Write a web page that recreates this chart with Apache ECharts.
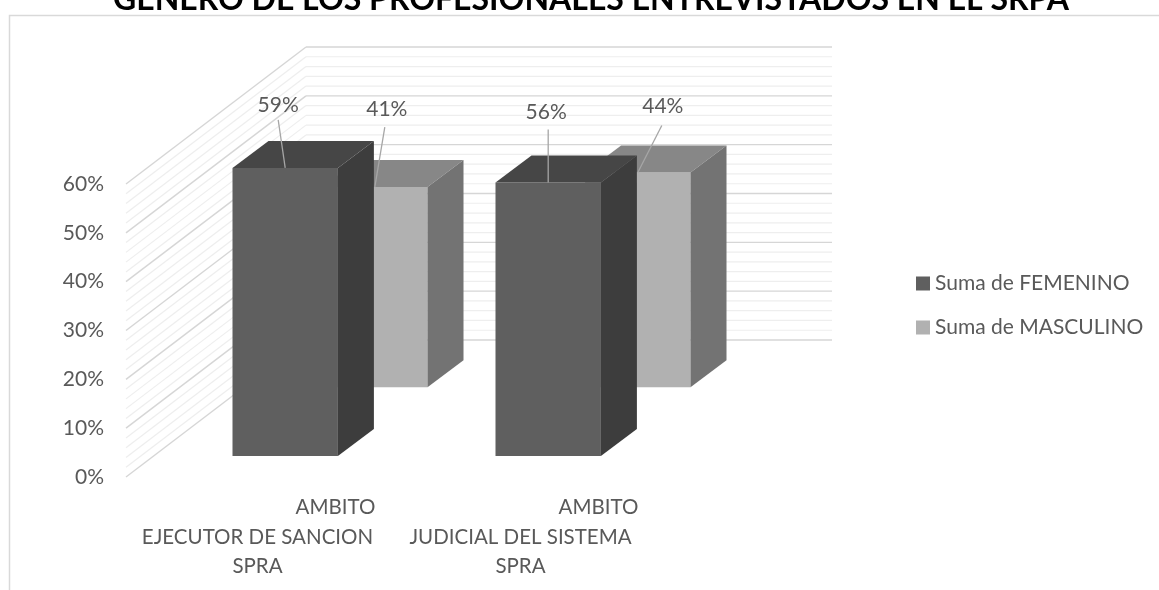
<!DOCTYPE html>
<html>
<head>
<meta charset="utf-8">
<script src="https://cdn.jsdelivr.net/npm/echarts@6/dist/echarts.min.js"></script>
<style>
  html, body { margin: 0; padding: 0; background: #ffffff; }
  #chart { width: 1159px; height: 590px; }
</style>
</head>
<body>
<div id="chart"></div>
<script>
// ---- data ----
const categories = ['AMBITO\nEJECUTOR DE SANCION\nSPRA', 'AMBITO\nJUDICIAL DEL SISTEMA\nSPRA'];
const seriesNames = ['Suma de FEMENINO', 'Suma de MASCULINO'];
const femenino = [0.59, 0.56];
const masculino = [0.41, 0.44];
const yTicks = [0, 0.1, 0.2, 0.3, 0.4, 0.5, 0.6];
const wallLines = [0, 0.02, 0.04, 0.06, 0.08, 0.1, 0.12, 0.14, 0.16, 0.18, 0.2,
  0.22, 0.24, 0.26, 0.28, 0.3, 0.32, 0.34, 0.36, 0.38, 0.4,
  0.42, 0.44, 0.46, 0.48, 0.5, 0.52, 0.54, 0.56, 0.58, 0.6];
const chartTitle = 'GENERO DE LOS PROFESIONALES ENTREVISTADOS EN EL SRPA';

// ---- styling / projection ----
const FONT = 'Lato, "Open Sans", sans-serif';
const TEXT = '#595959';
const FS = 21;
const WALL_DEPTH = { x: 180, y: -137 };   // oblique offset from front plane to back wall
const BAR_DEPTH = { x: 36, y: -27 };      // thickness of one column
const BAR_WIDTH = 105.4;
// per row: front-left offset from category centre and lift of the row's floor
const ROWS = [
  { left: -25, lift: -21, front: '#5f5f5f', top: '#464646', side: '#3d3d3d' },
  { left: 64.6, lift: -89.7, front: '#b1b1b1', top: '#878787', side: '#737373' }
];
// data label placement relative to front-top centre of each column
const LABEL_POS = [
  [{ tx: -7, ty: -63, lx: -7, ly: -48 }, { tx: -2, ty: -70, lx: 0, ly: -53 }],
  [{ tx: 12, ty: -78, lx: 10, ly: -60 }, { tx: 25, ty: -66, lx: 24, ly: -47 }]
];

const pct = v => Math.round(v * 100) + '%';

function renderWall(params, api) {
  const v = api.value(1);
  const cs = params.coordSys;
  const y = api.coord([0, v])[1];
  const major = yTicks.some(t => Math.abs(t - v) < 1e-9);
  const stroke = major ? '#d6d6d6' : '#eeeeee';
  const lw = major ? 1.4 : 1.2;
  const x0 = cs.x, x1 = cs.x + cs.width;
  return {
    type: 'group',
    children: [
      { type: 'line', shape: { x1: x0, y1: y, x2: x0 + WALL_DEPTH.x, y2: y + WALL_DEPTH.y },
        style: { stroke: stroke, lineWidth: lw } },
      { type: 'line', shape: { x1: x0 + WALL_DEPTH.x, y1: y + WALL_DEPTH.y, x2: x1 + WALL_DEPTH.x, y2: y + WALL_DEPTH.y },
        style: { stroke: stroke, lineWidth: lw } }
    ]
  };
}

function makeBarRenderer(row) {
  const r = ROWS[row];
  return function (params, api) {
    const cat = api.value(0);
    const v = api.value(1);
    const base = api.coord([cat, 0]);
    const topPt = api.coord([cat, v]);
    const h = base[1] - topPt[1];
    const xl = base[0] + r.left;
    const xr = xl + BAR_WIDTH;
    const yb = base[1] + r.lift;
    const yt = yb - h;
    const dx = BAR_DEPTH.x, dy = BAR_DEPTH.y;
    const lp = LABEL_POS[row][cat];
    const cx = (xl + xr) / 2;
    return {
      type: 'group',
      children: [
        { type: 'polygon', shape: { points: [[xl, yb], [xr, yb], [xr, yt], [xl, yt]] },
          style: { fill: r.front } },
        { type: 'polygon', shape: { points: [[xl, yt], [xr, yt], [xr + dx, yt + dy], [xl + dx, yt + dy]] },
          style: { fill: r.top } },
        { type: 'polygon', shape: { points: [[xr, yb], [xr + dx, yb + dy], [xr + dx, yt + dy], [xr, yt]] },
          style: { fill: r.side } },
        { type: 'line', shape: { x1: cx + lp.lx, y1: yt + lp.ly, x2: cx, y2: yt },
          style: { stroke: '#a6a6a6', lineWidth: 1.3 } },
        { type: 'text', x: cx + lp.tx, y: yt + lp.ty,
          style: { text: pct(v), fill: TEXT, font: FS + 'px ' + FONT, align: 'center', verticalAlign: 'middle' } }
      ]
    };
  };
}

const chart = echarts.init(document.getElementById('chart'), null, { renderer: 'canvas' });

chart.setOption({
  backgroundColor: '#ffffff',
  animation: false,
  color: [ROWS[0].front, ROWS[1].front],
  graphic: [
    { type: 'rect', left: 7, top: 13, shape: { width: 1200, height: 700 },
      style: { fill: 'none', stroke: '#d9d9d9', lineWidth: 1.5 }, z: 0 },
    { type: 'text', x: 591, y: 16, z: 5,
      style: { text: chartTitle, fill: '#000000', font: 'bold 32px ' + FONT, align: 'center', verticalAlign: 'bottom' } }
  ],
  legend: {
    data: seriesNames,
    orient: 'vertical',
    left: 911,
    top: 268,
    itemWidth: 14,
    itemHeight: 14,
    itemGap: 23,
    icon: 'rect',
    textStyle: { color: TEXT, fontSize: FS, fontFamily: FONT, lineHeight: 21 }
  },
  grid: { left: 126, right: 507, top: 184, bottom: 113, containLabel: false },
  xAxis: {
    type: 'category',
    data: categories,
    axisLine: { show: false },
    axisTick: { show: false },
    splitLine: { show: false },
    axisLabel: {
      interval: 0,
      margin: 16,
      formatter: function (val) {
        const lines = val.split('\n');
        return '{first|' + lines[0] + '}\n{rest|' + lines[1] + '}\n{rest|' + lines[2] + '}';
      },
      rich: {
        first: { color: TEXT, fontSize: 20.5, fontFamily: FONT, lineHeight: 29.5, padding: [0, 0, 0, 156] },
        rest: { color: TEXT, fontSize: 20.5, fontFamily: FONT, lineHeight: 29.5 }
      }
    }
  },
  yAxis: {
    type: 'value',
    min: 0,
    max: 0.6,
    interval: 0.1,
    axisLine: { show: false },
    axisTick: { show: false },
    splitLine: { show: false },
    axisLabel: { formatter: pct, margin: 22, color: TEXT, fontSize: FS, fontFamily: FONT }
  },
  series: [
    {
      type: 'custom',
      name: seriesNames[0],
      z: 3,
      itemStyle: { color: ROWS[0].front },
      renderItem: makeBarRenderer(0),
      data: femenino.map((v, i) => [i, v])
    },
    {
      type: 'custom',
      name: seriesNames[1],
      z: 2,
      itemStyle: { color: ROWS[1].front },
      renderItem: makeBarRenderer(1),
      data: masculino.map((v, i) => [i, v])
    },
    {
      type: 'custom',
      z: 1,
      silent: true,
      renderItem: renderWall,
      data: wallLines.map(v => [0, v])
    }
  ]
});
</script>
</body>
</html>
